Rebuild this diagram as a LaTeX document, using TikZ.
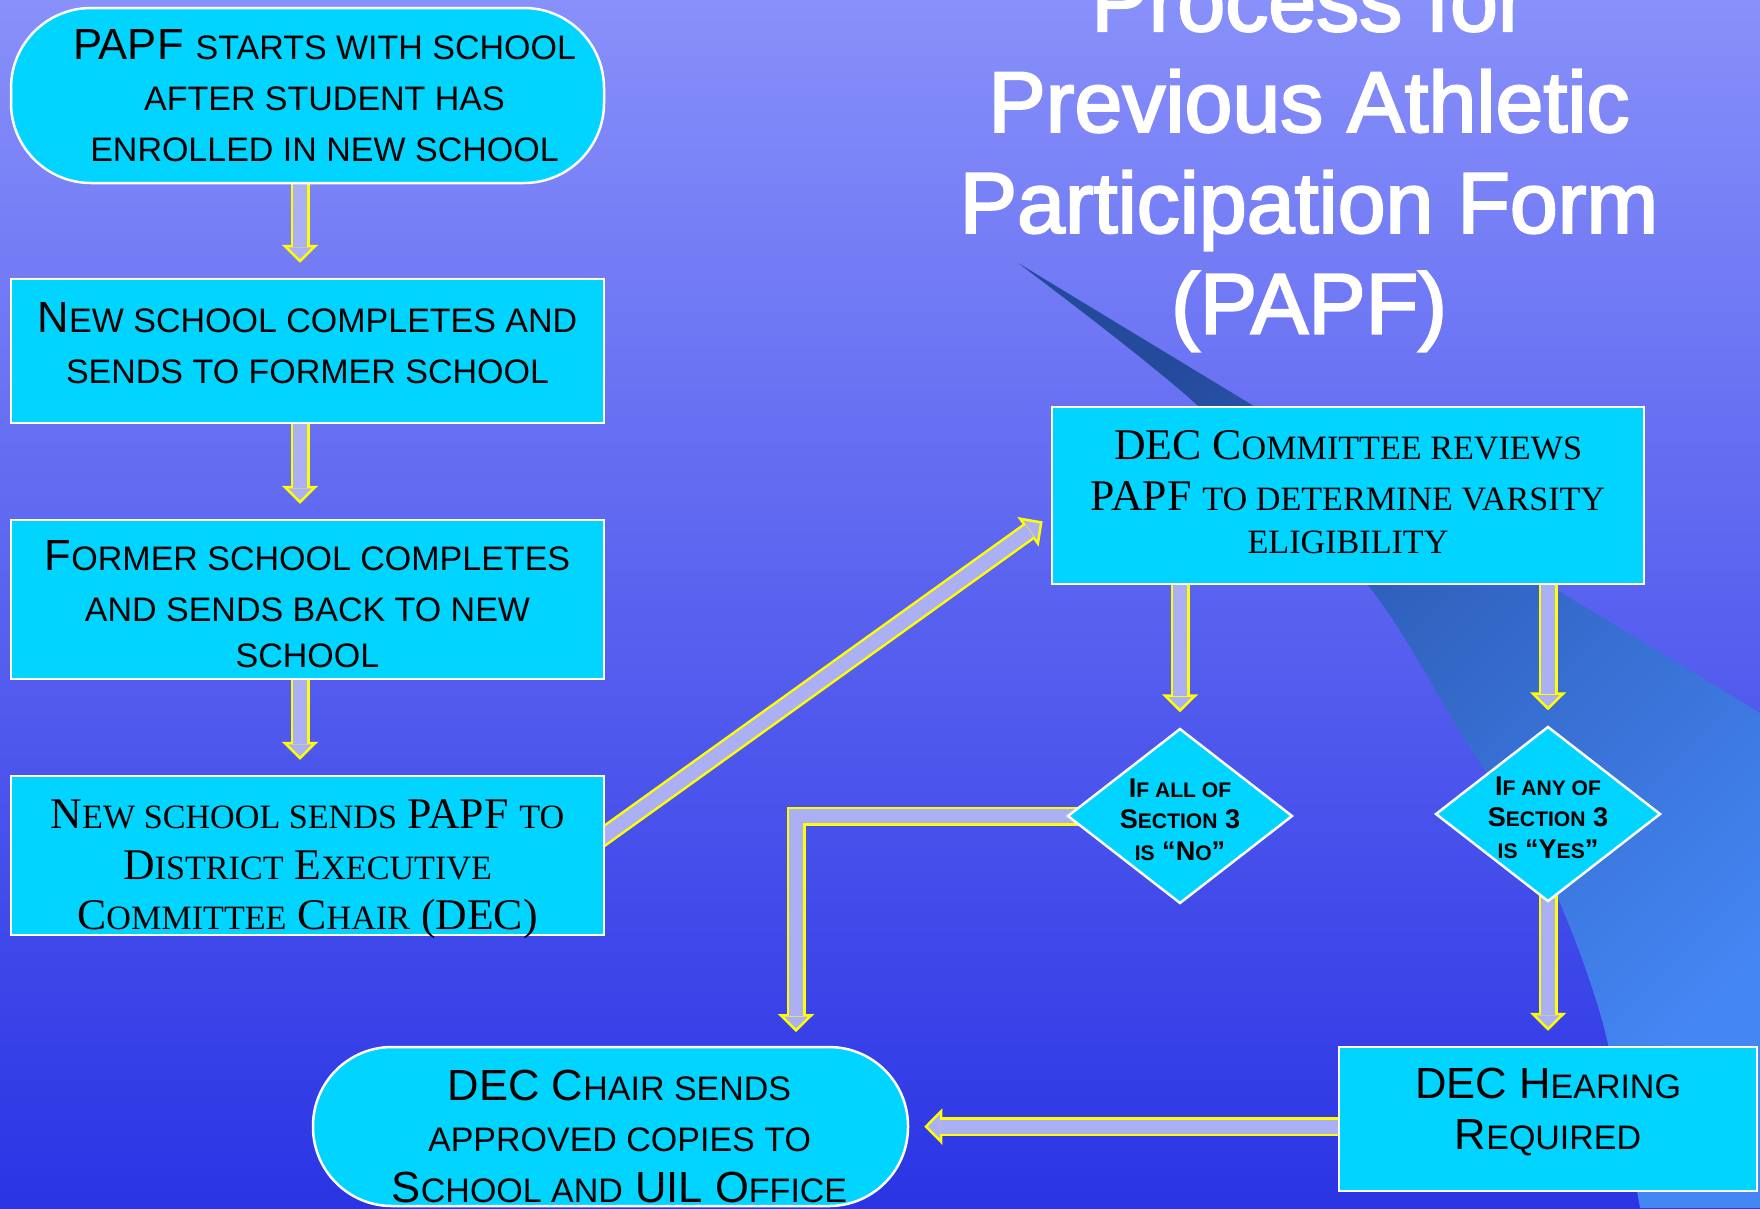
\documentclass[tikz,border=0pt]{standalone}
\usepackage{fontspec}
\setmainfont{Liberation Serif}
\setsansfont{Liberation Sans}
\newfontfamily\titlefont{Liberation Sans}[FakeBold=2.5]
\usetikzlibrary{shapes.geometric,arrows.meta}
\pgfdeclarelayer{bg}
\pgfdeclarelayer{links}
\pgfsetlayers{bg,links,main}
\definecolor{boxcyan}{HTML}{00D4FF}
\definecolor{linkfill}{HTML}{ABAFF3}
\definecolor{linkrim}{HTML}{FFFF00}
\definecolor{skytop}{HTML}{8890FA}
\definecolor{skybot}{HTML}{2A34E4}
\definecolor{streakdark}{HTML}{244A9C}
\definecolor{streaklight}{HTML}{4486F4}
\makeatletter
\newcommand{\lo}[1]{{\fontsize{\fpeval{0.78*\f@size}}{\f@baselineskip}\selectfont #1}}
\makeatother

\begin{document}
\begin{tikzpicture}[x=0.1mm,y=-0.1mm]
    \begin{scope}
        \tikzset{pbox/.style = {
            rectangle,
            draw=white,
            line width=0.25mm,
            fill=boxcyan,
            align=center,
            inner sep=0pt,
            minimum width=59.3mm,
            font=\sffamily\fontsize{12.4}{14.5}\selectfont } }
        \tikzset{pserif/.style = {
            pbox,
            font=\rmfamily\fontsize{12.45}{14.4}\selectfont } }
        \tikzset{pterm/.style = {
            pbox,
            rounded corners=8mm } }
        \tikzset{pdiam/.style = {
            diamond,
            draw=white,
            line width=0.25mm,
            fill=boxcyan,
            align=center,
            aspect=1.29,
            inner sep=-1mm,
            minimum width=22.5mm,
            minimum height=17.5mm,
            font=\sffamily\bfseries\fontsize{7.7}{8.9}\selectfont } }
        \tikzset{pedge/.style = {
            draw=linkfill,
            line width=1.4mm,
            line join=miter,
            shorten >=#1+1.6mm,
            preaction={draw=linkrim, line width=1.9mm, shorten >=#1,
                -{Triangle[width=3.6mm, length=1.8mm, fill=linkfill, line width=0.25mm]}} },
            pedge/.default=1.5mm }

        \useasboundingbox (0,0) rectangle (1760,1208);
        \begin{pgfonlayer}{bg}
            \shade[top color=skytop, bottom color=skybot] (0,0) rectangle (1760,1208);
            \shade[top color=streakdark, bottom color=streaklight, shading angle=45]
                (1018,263) -- (1760,713) -- (1760,1208)
                -- plot[smooth] coordinates {(1640,1208) (1602,1020) (1545,870) (1462,735) (1367,584) (1197,405) (1018,263)} -- cycle;
        \end{pgfonlayer}

        \node[font=\titlefont\fontsize{24.5}{28.7}\selectfont, text=white, align=center,
            anchor=north, inner sep=0pt] (title) at (1309,-32)
            {Process for\\Previous Athletic\\Participation Form\\(PAPF)};

        \node[pterm, minimum height=17.5mm] (start) at (307.5,95.5)
            {\hspace*{3.4mm}PAPF \lo{STARTS WITH SCHOOL}\\\hspace*{3.4mm}\lo{AFTER STUDENT HAS}\\\hspace*{3.4mm}\lo{ENROLLED IN NEW SCHOOL}};
        \node[pbox, minimum height=14.4mm] (newsch) at (307.5,351)
            {N\lo{EW SCHOOL COMPLETES AND}\\\lo{SENDS TO FORMER SCHOOL}\rule[-1.6mm]{0pt}{0pt}};
        \node[pbox, minimum height=15.9mm] (oldsch) at (307.5,599.5)
            {\rule{0pt}{4mm}F\lo{ORMER SCHOOL COMPLETES}\\\lo{AND SENDS BACK TO NEW}\\[-0.5mm]\lo{SCHOOL}};
        \node[pserif, minimum height=15.9mm, text depth=0pt] (tochair) at (307.5,855.5)
            {\rule{0pt}{4.7mm}N\lo{EW SCHOOL SENDS} PAPF \lo{TO}\\D\lo{ISTRICT} E\lo{XECUTIVE}\\C\lo{OMMITTEE} C\lo{HAIR} (DEC)};
        \node[pserif, minimum width=59.2mm, minimum height=17.7mm] (review) at (1348,495.5)
            {DEC C\lo{OMMITTEE REVIEWS}\\PAPF \lo{TO DETERMINE VARSITY}\\[-0.8mm]\lo{ELIGIBILITY}\rule[-0.7mm]{0pt}{0pt}};
        \node[pdiam] (allno) at (1180,816)
            {\rule{0pt}{2.6mm}I\lo{F ALL OF}\\S\lo{ECTION} 3\\\lo{IS} ``N\lo{O}''};
        \node[pdiam] (anyyes) at (1548,814)
            {\rule{0pt}{2.6mm}I\lo{F ANY OF}\\S\lo{ECTION} 3\\\lo{IS} ``Y\lo{ES}''};
        \node[pbox, minimum width=41.8mm, minimum height=14.4mm] (hearing) at (1548,1119)
            {DEC H\lo{EARING}\\R\lo{EQUIRED}\rule[-2mm]{0pt}{0pt}};
        \node[pterm, minimum width=59.5mm, minimum height=15.9mm, rounded corners=7.9mm] (approve) at (610.5,1126.5)
            {\hspace*{1.8mm}\rule{0pt}{5mm}DEC C\lo{HAIR SENDS}\\\hspace*{1.8mm}\lo{APPROVED COPIES TO}\\\hspace*{1.8mm}S\lo{CHOOL AND} UIL O\lo{FFICE}};
        \coordinate (drop) at (796,1047);

        \begin{pgfonlayer}{links}
            \foreach \a/\b in {start/newsch,newsch/oldsch,oldsch/tochair}{
                \draw[pedge] ([xshift=-0.75mm]\a.south) -- ([xshift=-0.75mm]\b.north);
            }
            \draw[pedge=1mm] ([xshift=-4.5mm,yshift=-1.2mm]tochair.east) -- ([yshift=-2mm]review.west);
            \foreach \d in {allno,anyyes}{
                \draw[pedge] (review.south -| \d.north) -- (\d.north);
            }
            \draw[pedge] (anyyes.center) -- (hearing.north);
            \draw[pedge] (hearing.center |- approve.east) -- (approve.east);
            \draw[pedge] (allno.center) -| (drop);
        \end{pgfonlayer}
    \end{scope}
\end{tikzpicture}
\end{document}
